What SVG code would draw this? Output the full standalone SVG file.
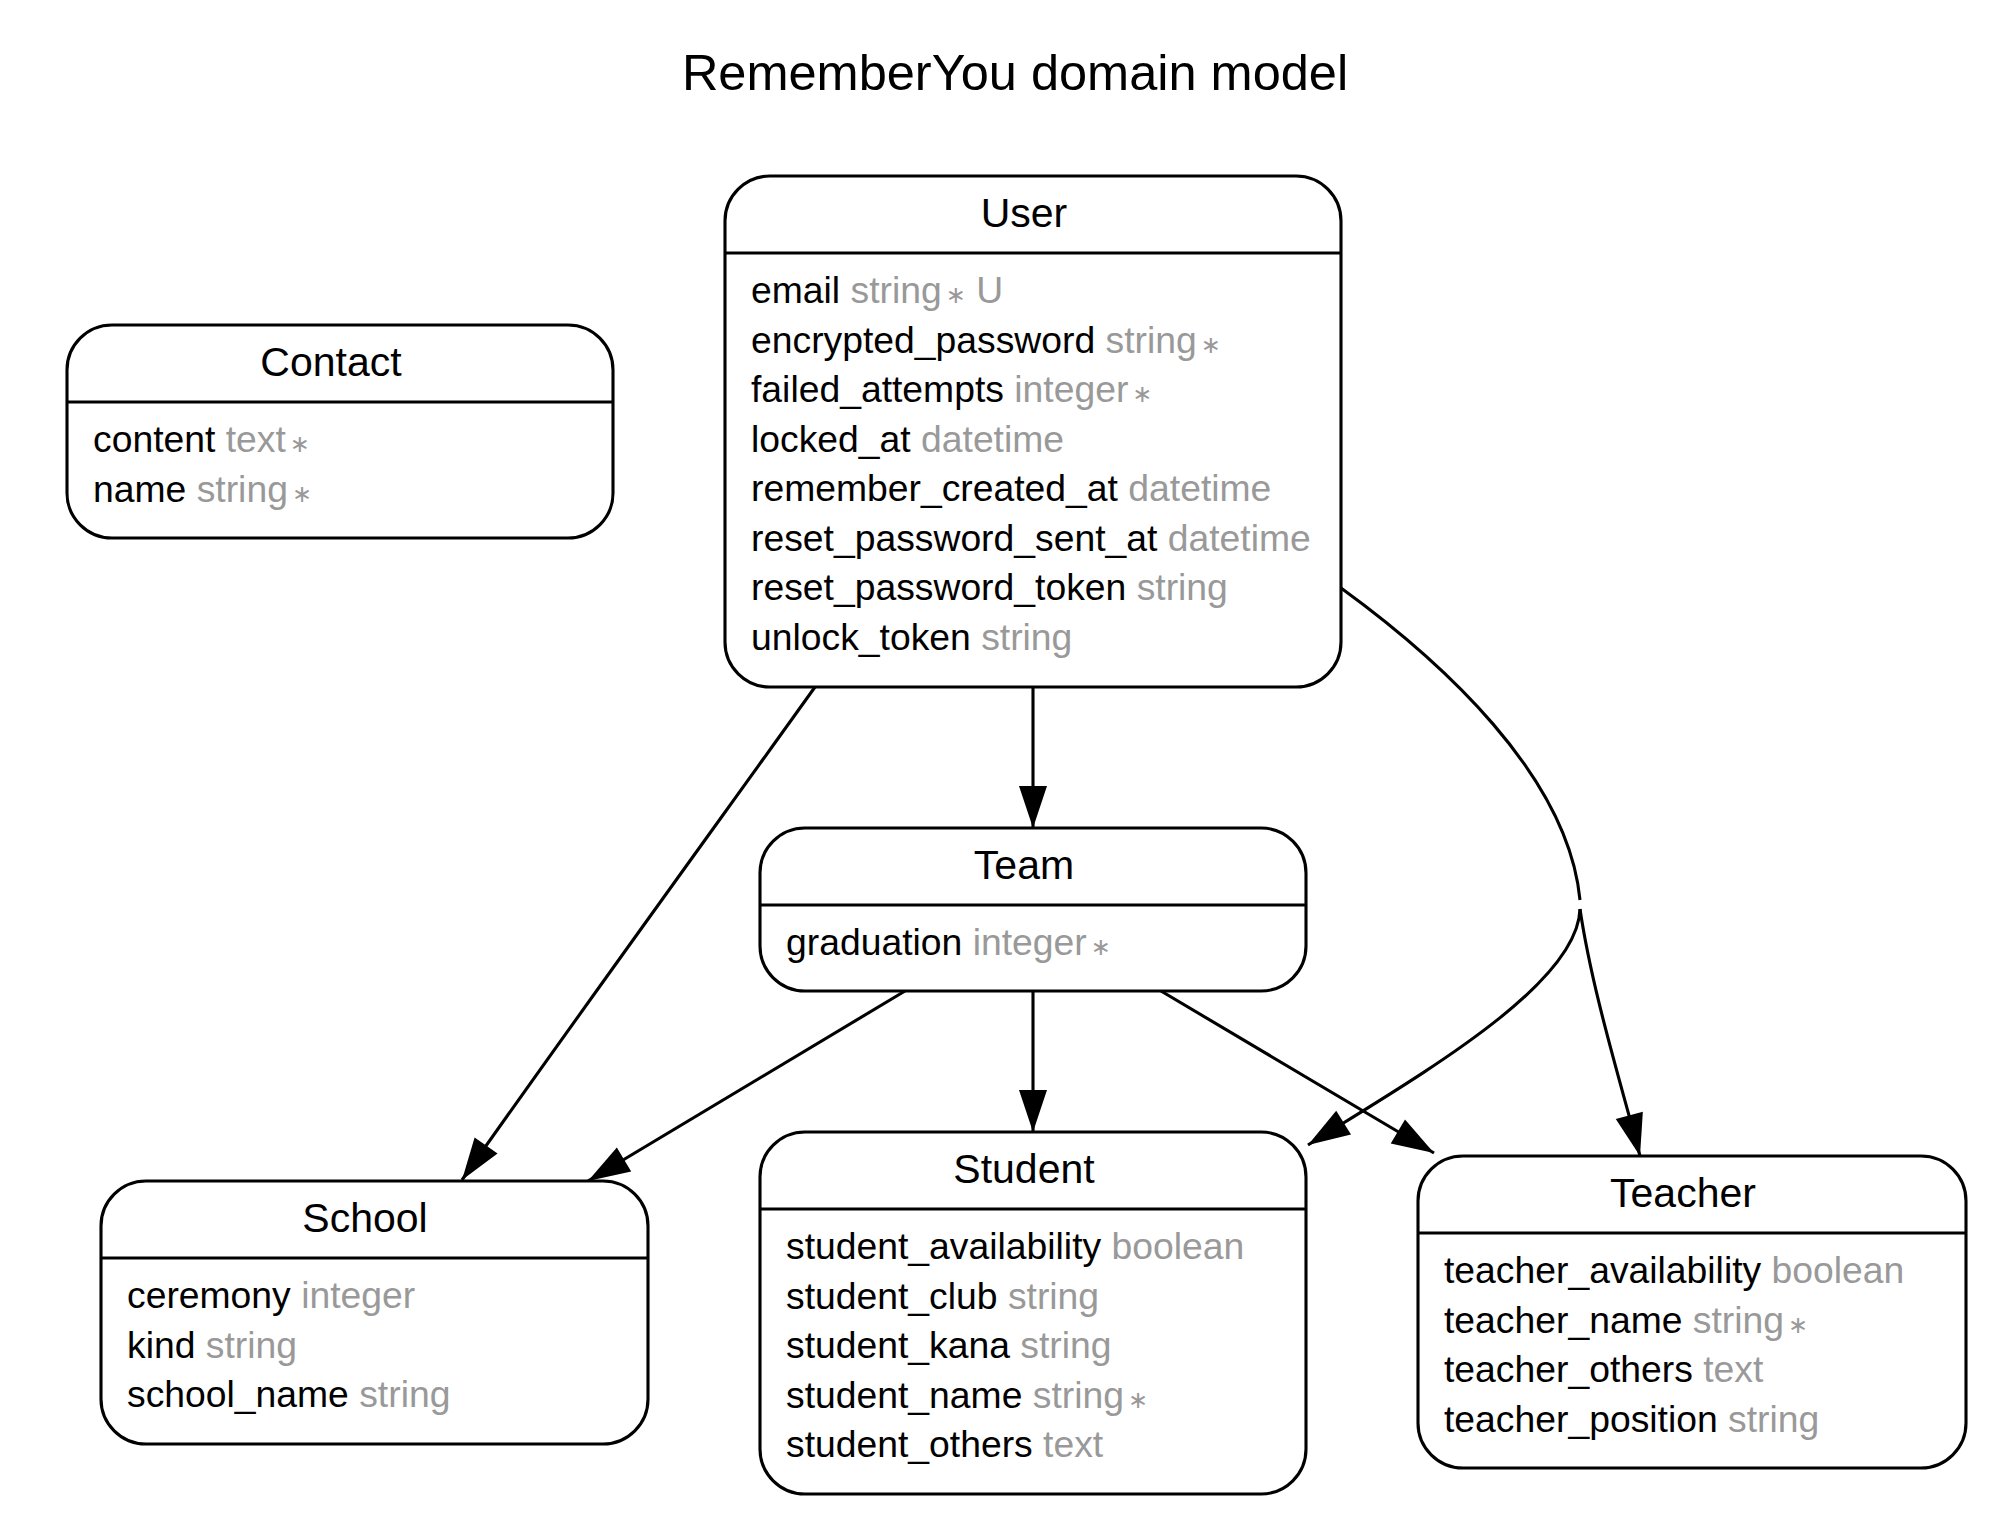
<svg xmlns="http://www.w3.org/2000/svg" width="2012" height="1522" viewBox="0 0 2012 1522">
<style>
text{font-family:"Liberation Sans",Arial,"DejaVu Sans",sans-serif;fill:#000}
.title{font-size:50.5px}
.ename{font-size:41px;text-anchor:middle}
.attr{font-size:37.3px}
.t{fill:#999999}
.star{fill:#999999;font-size:24px}
.box{fill:#fff;stroke:#000;stroke-width:3.1}
.sep{stroke:#000;stroke-width:3.1}
.edge{fill:none;stroke:#000;stroke-width:3.1}
</style>
<defs>
<marker id="arr" markerUnits="userSpaceOnUse" markerWidth="42" markerHeight="28" refX="42" refY="14" orient="auto" overflow="visible">
<path d="M0,0 L42,14 L0,28 z" fill="#000"/>
</marker>
</defs>
<rect width="2012" height="1522" fill="#fff"/>
<text class="title" x="1015" y="90" text-anchor="middle">RememberYou domain model</text>

<g id="connectors">
<path class="edge" d="M1033 687 L1033 828" marker-end="url(#arr)"/>
<path class="edge" d="M815 687 C745 785, 560 1040, 462 1180" marker-end="url(#arr)"/>
<path class="edge" d="M1341 588 C1440 660, 1568 775, 1580 900"/>
<path class="edge" d="M1580 909 C1592 990, 1620 1080, 1640 1156" marker-end="url(#arr)"/>
<path class="edge" d="M1580 909 C1578 985, 1420 1075, 1308 1145" marker-end="url(#arr)"/>
<path class="edge" d="M905 991 L588 1181" marker-end="url(#arr)"/>
<path class="edge" d="M1033 991 L1033 1132" marker-end="url(#arr)"/>
<path class="edge" d="M1161 991 L1434 1153" marker-end="url(#arr)"/>
</g>

<g id="node-contact">
<rect class="box" x="67" y="325" width="546" height="213" rx="45" ry="45"/>
<line class="sep" x1="67" y1="402" x2="613" y2="402"/>
<text class="ename" x="331" y="376">Contact</text>
<text class="attr" x="93" y="452">content <tspan class="t">text</tspan><tspan class="star" dx="4">∗</tspan></text>
<text class="attr" x="93" y="501.5">name <tspan class="t">string</tspan><tspan class="star" dx="4">∗</tspan></text>
</g>

<g id="node-user">
<rect class="box" x="725" y="176" width="616" height="511" rx="45" ry="45"/>
<line class="sep" x1="725" y1="253" x2="1341" y2="253"/>
<text class="ename" x="1024" y="227">User</text>
<text class="attr" x="751" y="303">email <tspan class="t">string</tspan><tspan class="star" dx="4">∗</tspan><tspan class="t"> U</tspan></text>
<text class="attr" x="751" y="352.5">encrypted_password <tspan class="t">string</tspan><tspan class="star" dx="4">∗</tspan></text>
<text class="attr" x="751" y="402">failed_attempts <tspan class="t">integer</tspan><tspan class="star" dx="4">∗</tspan></text>
<text class="attr" x="751" y="451.5">locked_at <tspan class="t">datetime</tspan></text>
<text class="attr" x="751" y="501">remember_created_at <tspan class="t">datetime</tspan></text>
<text class="attr" x="751" y="550.5">reset_password_sent_at <tspan class="t">datetime</tspan></text>
<text class="attr" x="751" y="600">reset_password_token <tspan class="t">string</tspan></text>
<text class="attr" x="751" y="649.5">unlock_token <tspan class="t">string</tspan></text>
</g>

<g id="node-team">
<rect class="box" x="760" y="828" width="546" height="163" rx="45" ry="45"/>
<line class="sep" x1="760" y1="905" x2="1306" y2="905"/>
<text class="ename" x="1024" y="879">Team</text>
<text class="attr" x="786" y="955">graduation <tspan class="t">integer</tspan><tspan class="star" dx="4">∗</tspan></text>
</g>

<g id="node-school">
<rect class="box" x="101" y="1181" width="547" height="263" rx="45" ry="45"/>
<line class="sep" x1="101" y1="1258" x2="648" y2="1258"/>
<text class="ename" x="365" y="1232">School</text>
<text class="attr" x="127" y="1308">ceremony <tspan class="t">integer</tspan></text>
<text class="attr" x="127" y="1357.5">kind <tspan class="t">string</tspan></text>
<text class="attr" x="127" y="1407">school_name <tspan class="t">string</tspan></text>
</g>

<g id="node-student">
<rect class="box" x="760" y="1132" width="546" height="362" rx="45" ry="45"/>
<line class="sep" x1="760" y1="1209" x2="1306" y2="1209"/>
<text class="ename" x="1024" y="1183">Student</text>
<text class="attr" x="786" y="1259">student_availability <tspan class="t">boolean</tspan></text>
<text class="attr" x="786" y="1308.5">student_club <tspan class="t">string</tspan></text>
<text class="attr" x="786" y="1358">student_kana <tspan class="t">string</tspan></text>
<text class="attr" x="786" y="1407.5">student_name <tspan class="t">string</tspan><tspan class="star" dx="4">∗</tspan></text>
<text class="attr" x="786" y="1457">student_others <tspan class="t">text</tspan></text>
</g>

<g id="node-teacher">
<rect class="box" x="1418" y="1156" width="548" height="312" rx="45" ry="45"/>
<line class="sep" x1="1418" y1="1233" x2="1966" y2="1233"/>
<text class="ename" x="1683" y="1207">Teacher</text>
<text class="attr" x="1444" y="1283">teacher_availability <tspan class="t">boolean</tspan></text>
<text class="attr" x="1444" y="1332.5">teacher_name <tspan class="t">string</tspan><tspan class="star" dx="4">∗</tspan></text>
<text class="attr" x="1444" y="1382">teacher_others <tspan class="t">text</tspan></text>
<text class="attr" x="1444" y="1431.5">teacher_position <tspan class="t">string</tspan></text>
</g>
</svg>
